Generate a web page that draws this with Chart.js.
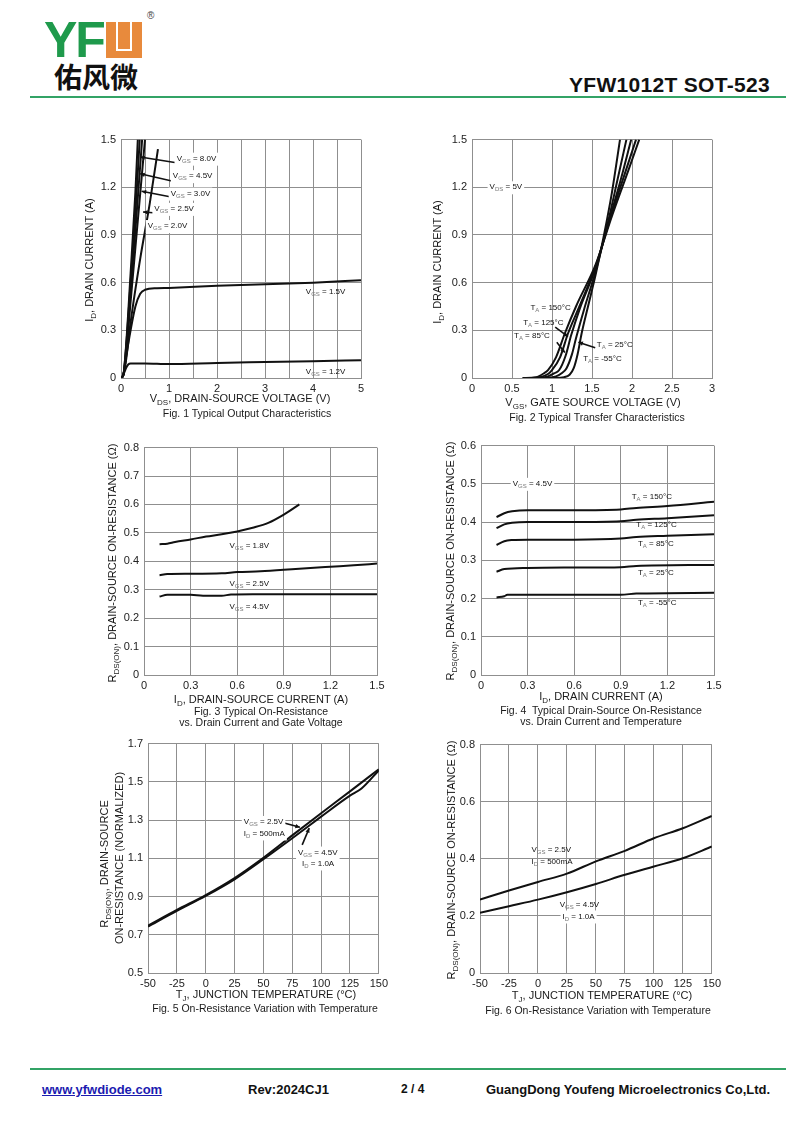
<!DOCTYPE html>
<html>
<head>
<meta charset="utf-8">
<script src="https://cdn.jsdelivr.net/npm/chart.js@4.4.1/dist/chart.umd.min.js"></script>
<style>
body{margin:0;width:800px;height:1130px;position:relative;background:#fff;font-family:"Liberation Sans",Arial,sans-serif;color:#111;overflow:hidden}
canvas{position:absolute}
.t{position:absolute;width:320px;text-align:center;white-space:nowrap;font-size:11px;line-height:12px;color:#1a1a1a}
.cap{font-size:10.5px}
.rot{transform:rotate(-90deg)}
sub{font-size:8px;vertical-align:-3px;line-height:0}
.line{position:absolute;left:30px;width:756px;height:2px;background:#33a366}
.foot{position:absolute;top:1082px;font-weight:bold;font-size:13px;white-space:nowrap}
</style>
</head>
<body>
<div style="position:absolute;left:44px;top:15px;font:bold 50px 'Liberation Sans',Arial;color:#1f9a4c;letter-spacing:-2px;line-height:50px">YF</div>
<div style="position:absolute;left:106px;top:22px;width:36px;height:36px;background:#e88a3c">
  <div style="position:absolute;left:10px;top:0;width:12px;height:27px;border:2px solid #fff;border-top:none"></div>
</div>
<div style="position:absolute;left:147px;top:10px;font-size:10px;color:#444">&reg;</div>
<div style="position:absolute;left:54px;top:58px;font:bold 28px 'Noto Sans CJK SC';color:#111;line-height:36px">佑风微</div>
<div style="position:absolute;left:569px;top:73px;font:bold 21px 'Liberation Sans',Arial;letter-spacing:0.3px;white-space:nowrap">YFW1012T SOT-523</div>
<div class="line" style="top:96px"></div>
<div class="line" style="top:1068px"></div>
<div class="foot" style="left:42px;color:#1b1bb0;text-decoration:underline">www.yfwdiode.com</div>
<div class="foot" style="left:248px">Rev:2024CJ1</div>
<div class="foot" style="left:401px;font-size:12px">2 / 4</div>
<div class="foot" style="left:486px">GuangDong Youfeng Microelectronics Co,Ltd.</div>

<script>
// Fig.1 output characteristics  [VDS, ID]
const f1_vgs80 = [[0,0],[0.05,0.02],[0.1,0.18],[0.2,0.66],[0.3,1.17],[0.35,1.5]];
const f1_vgs45 = [[0,0],[0.05,0.02],[0.1,0.17],[0.2,0.6],[0.3,1.04],[0.39,1.5]];
const f1_vgs30 = [[0,0],[0.05,0.02],[0.1,0.15],[0.2,0.55],[0.3,0.93],[0.44,1.5]];
const f1_vgs25 = [[0,0],[0.05,0.02],[0.1,0.13],[0.2,0.48],[0.3,0.82],[0.4,1.16],[0.5,1.5]];
const f1_vgs20 = [[0,0],[0.05,0.02],[0.1,0.1],[0.2,0.35],[0.4,0.75],[0.6,1.1],[0.77,1.44]];
const f1_vgs15 = [[0,0],[0.05,0.02],[0.1,0.12],[0.2,0.3],[0.3,0.45],[0.4,0.53],[0.5,0.555],[0.75,0.565],[1,0.567],[2,0.58],[3,0.59],[4,0.6],[5,0.615]];
const f1_vgs12 = [[0,0],[0.05,0.02],[0.1,0.06],[0.15,0.085],[0.2,0.092],[0.5,0.092],[1,0.088],[2,0.095],[3,0.1],[4,0.105],[5,0.112]];

// Fig.2 transfer characteristics [VGS, ID]
const f2_t150 = [[0.63,0],[0.8,0.005],[0.9,0.03],[0.95,0.05],[1.05,0.13],[1.16,0.28],[1.3,0.45],[1.55,0.72],[1.75,1.02],[1.95,1.3],[2.09,1.5]];
const f2_t125 = [[0.7,0],[0.85,0.005],[0.95,0.025],[1.0,0.05],[1.1,0.13],[1.2,0.28],[1.35,0.46],[1.55,0.71],[1.75,1.04],[1.9,1.27],[2.05,1.5]];
const f2_t85 = [[0.8,0],[0.95,0.01],[1.03,0.03],[1.09,0.05],[1.17,0.14],[1.24,0.27],[1.35,0.44],[1.55,0.7],[1.7,0.97],[1.85,1.23],[1.99,1.5]];
const f2_t25 = [[0.9,0],[1.05,0.01],[1.12,0.03],[1.18,0.06],[1.25,0.15],[1.3,0.25],[1.4,0.43],[1.55,0.68],[1.7,0.98],[1.82,1.25],[1.93,1.5]];
const f2_tm55 = [[1.0,0],[1.15,0.005],[1.22,0.02],[1.27,0.06],[1.32,0.15],[1.37,0.28],[1.45,0.45],[1.55,0.66],[1.65,0.9],[1.75,1.17],[1.85,1.5]];

// Fig.3 RDS(on) vs ID and VGS [ID, R]
const f3_vgs18 = [[0.1,0.46],[0.15,0.462],[0.2,0.468],[0.3,0.477],[0.4,0.487],[0.5,0.495],[0.6,0.505],[0.7,0.518],[0.8,0.535],[0.9,0.564],[1.0,0.6]];
const f3_vgs25 = [[0.1,0.351],[0.15,0.355],[0.3,0.356],[0.5,0.358],[0.6,0.362],[0.75,0.365],[0.9,0.37],[1.0,0.374],[1.2,0.381],[1.35,0.386],[1.5,0.392]];
const f3_vgs45 = [[0.1,0.276],[0.15,0.282],[0.3,0.282],[0.38,0.279],[0.5,0.279],[0.56,0.283],[0.7,0.284],[1.0,0.284],[1.5,0.284]];

// Fig.4 RDS(on) vs ID and temperature [ID, R]
const f4_t150 = [[0.1,0.413],[0.15,0.423],[0.2,0.428],[0.3,0.431],[0.6,0.431],[0.9,0.433],[1.0,0.437],[1.2,0.442],[1.5,0.453]];
const f4_t125 = [[0.1,0.384],[0.15,0.394],[0.2,0.398],[0.3,0.4],[0.6,0.4],[0.9,0.402],[1.0,0.406],[1.2,0.41],[1.5,0.418]];
const f4_t85 = [[0.1,0.34],[0.15,0.35],[0.2,0.353],[0.3,0.354],[0.6,0.354],[0.9,0.357],[1.0,0.361],[1.2,0.364],[1.5,0.368]];
const f4_t25 = [[0.1,0.27],[0.15,0.277],[0.3,0.28],[0.6,0.281],[0.9,0.282],[1.0,0.285],[1.5,0.288]];
const f4_tm55 = [[0.1,0.203],[0.15,0.206],[0.17,0.21],[0.6,0.21],[0.9,0.21],[1.0,0.213],[1.5,0.215]];

// Fig.5 normalized RDS(on) vs TJ
const f5_vgs25 = [[-50,0.748],[-25,0.83],[0,0.908],[25,0.997],[50,1.103],[75,1.22],[100,1.336],[125,1.45],[150,1.566]];
const f5_vgs45 = [[-50,0.743],[-25,0.825],[0,0.903],[25,0.99],[50,1.095],[75,1.205],[100,1.318],[125,1.428],[135,1.465],[150,1.56]];

// Fig.6 RDS(on) vs TJ
const f6_vgs25 = [[-50,0.257],[-25,0.289],[0,0.319],[25,0.348],[50,0.391],[75,0.428],[100,0.472],[125,0.507],[150,0.55]];
const f6_vgs45 = [[-50,0.211],[-25,0.234],[0,0.257],[25,0.283],[50,0.312],[75,0.344],[100,0.373],[125,0.402],[150,0.443]];

const fmt = v => String(+v.toFixed(2));
const fmtInt = v => Number.isInteger(+v.toFixed(3)) ? fmt(v) : '';

function notePlugin(notes) {
  return {
    id: 'notes',
    afterDatasetsDraw(chart) {
      const ctx = chart.ctx, sx = chart.scales.x, sy = chart.scales.y;
      ctx.save();
      ctx.strokeStyle = '#111';
      ctx.fillStyle = '#111';
      ctx.lineWidth = 1.6;
      notes.forEach(n => {
        if (!n.arrow) return;
        const x1 = sx.getPixelForValue(n.arrow[0]), y1 = sy.getPixelForValue(n.arrow[1]);
        const x2 = sx.getPixelForValue(n.arrow[2]), y2 = sy.getPixelForValue(n.arrow[3]);
        ctx.beginPath(); ctx.moveTo(x1, y1); ctx.lineTo(x2, y2); ctx.stroke();
        const a = Math.atan2(y2 - y1, x2 - x1);
        ctx.beginPath();
        ctx.moveTo(x2, y2);
        ctx.lineTo(x2 - 5 * Math.cos(a - 0.45), y2 - 5 * Math.sin(a - 0.45));
        ctx.lineTo(x2 - 5 * Math.cos(a + 0.45), y2 - 5 * Math.sin(a + 0.45));
        ctx.closePath(); ctx.fill();
      });
      ctx.textBaseline = 'middle';
      notes.forEach(n => {
        const x = sx.getPixelForValue(n.x), y = sy.getPixelForValue(n.y);
        ctx.font = '8px "Liberation Sans"';
        const w1 = ctx.measureText(n.v).width;
        const w3 = ctx.measureText(n.t).width;
        ctx.font = '6px "Liberation Sans"';
        const w2 = ctx.measureText(n.s).width;
        if (n.bg) { ctx.fillStyle = '#fff'; ctx.fillRect(x - 2, y - 6, w1 + w2 + w3 + 4, 13); }
        ctx.fillStyle = '#111';
        ctx.font = '8px "Liberation Sans"';
        ctx.fillText(n.v, x, y);
        ctx.fillText(n.t, x + w1 + w2, y);
        ctx.font = '6px "Liberation Sans"';
        ctx.fillStyle = '#777';
        ctx.fillText(n.s, x + w1, y + 2.5);
        ctx.fillStyle = '#111';
      });
      ctx.restore();
    }
  };
}

function axis(min, max, step, cb, fit) {
  return {
    type: 'linear', min: min, max: max,
    ticks: { stepSize: step, autoSkip: false, maxRotation: 0, padding: fit === 'x' ? 4 : 5,
      color: '#222', font: { family: 'Liberation Sans', size: 11 }, callback: cb },
    grid: { color: '#8f8f8f', lineWidth: 1, drawTicks: false },
    border: { color: '#8f8f8f' },
    afterFit(s) { if (fit === 'x') s.height = 24; else s.width = 40; }
  };
}

function mkChart(area, xa, ya, series, notes) {
  const pl = 40, pt = 10, pr = 12, pb = 24;
  const w = area[2] - area[0] + pl + pr, h = area[3] - area[1] + pt + pb;
  const c = document.createElement('canvas');
  c.width = w; c.height = h;
  c.style.left = (area[0] - pl) + 'px'; c.style.top = (area[1] - pt) + 'px';
  c.style.width = w + 'px'; c.style.height = h + 'px';
  document.body.appendChild(c);
  new Chart(c, {
    type: 'line',
    data: { datasets: series.map(s => ({
      data: s.map(p => ({ x: p[0], y: p[1] })),
      borderColor: '#111', borderWidth: 2, pointRadius: 0,
      cubicInterpolationMode: 'monotone', fill: false })) },
    options: {
      responsive: false, animation: false, devicePixelRatio: 1,
      layout: { padding: { top: pt, right: pr, left: 0, bottom: 0 } },
      plugins: { legend: { display: false }, tooltip: { enabled: false } },
      scales: { x: axis(xa[0], xa[1], xa[2], xa[3], 'x'), y: axis(ya[0], ya[1], ya[2], ya[3], 'y') }
    },
    plugins: [notePlugin(notes)]
  });
}

function txt(html, cx, cy, cls) {
  const d = document.createElement('div');
  d.className = 't ' + (cls || '');
  d.innerHTML = html;
  d.style.left = (cx - 160) + 'px';
  d.style.top = (cy - 6) + 'px';
  document.body.appendChild(d);
}

mkChart([121, 138, 361, 378], [0, 5, 0.5, fmtInt], [0, 1.5, 0.3, fmt],
  [f1_vgs80, f1_vgs45, f1_vgs30, f1_vgs25, f1_vgs20, f1_vgs15, f1_vgs12], [
  { x: 1.16, y: 1.38, v: 'V', s: 'GS', t: ' = 8.0V', bg: true, arrow: [1.12, 1.356, 0.4, 1.39] },
  { x: 1.08, y: 1.27, v: 'V', s: 'GS', t: ' = 4.5V', bg: true, arrow: [1.06, 1.24, 0.4, 1.285] },
  { x: 1.035, y: 1.16, v: 'V', s: 'GS', t: ' = 3.0V', bg: true, arrow: [1.02, 1.14, 0.43, 1.175] },
  { x: 0.695, y: 1.064, v: 'V', s: 'GS', t: ' = 2.5V', bg: true, arrow: [0.67, 1.04, 0.46, 1.044] },
  { x: 0.556, y: 0.956, v: 'V', s: 'GS', t: ' = 2.0V', bg: true },
  { x: 3.85, y: 0.54, v: 'V', s: 'GS', t: ' = 1.5V' },
  { x: 3.85, y: 0.04, v: 'V', s: 'GS', t: ' = 1.2V' }
]);

mkChart([472, 138, 712, 378], [0, 3, 0.5, fmt], [0, 1.5, 0.3, fmt],
  [f2_t150, f2_t125, f2_t85, f2_t25, f2_tm55], [
  { x: 0.22, y: 1.2, v: 'V', s: 'DS', t: ' = 5V', bg: true },
  { x: 0.73, y: 0.44, v: 'T', s: 'A', t: ' = 150°C' },
  { x: 0.64, y: 0.35, v: 'T', s: 'A', t: ' = 125°C', arrow: [1.04, 0.32, 1.2, 0.26] },
  { x: 0.525, y: 0.265, v: 'T', s: 'A', t: ' = 85°C', arrow: [1.06, 0.225, 1.16, 0.16] },
  { x: 1.56, y: 0.21, v: 'T', s: 'A', t: ' = 25°C', arrow: [1.54, 0.19, 1.33, 0.225] },
  { x: 1.39, y: 0.12, v: 'T', s: 'A', t: ' = -55°C' }
]);

mkChart([144, 446, 377, 675], [0, 1.5, 0.3, fmt], [0, 0.8, 0.1, fmt],
  [f3_vgs18, f3_vgs25, f3_vgs45], [
  { x: 0.55, y: 0.455, v: 'V', s: 'GS', t: ' = 1.8V' },
  { x: 0.55, y: 0.322, v: 'V', s: 'GS', t: ' = 2.5V' },
  { x: 0.55, y: 0.24, v: 'V', s: 'GS', t: ' = 4.5V' }
]);

mkChart([481, 444, 714, 675], [0, 1.5, 0.3, fmt], [0, 0.6, 0.1, fmt],
  [f4_t150, f4_t125, f4_t85, f4_t25, f4_tm55], [
  { x: 0.204, y: 0.5, v: 'V', s: 'GS', t: ' = 4.5V', bg: true },
  { x: 0.97, y: 0.467, v: 'T', s: 'A', t: ' = 150°C' },
  { x: 1.0, y: 0.392, v: 'T', s: 'A', t: ' = 125°C' },
  { x: 1.01, y: 0.343, v: 'T', s: 'A', t: ' = 85°C' },
  { x: 1.01, y: 0.268, v: 'T', s: 'A', t: ' = 25°C' },
  { x: 1.01, y: 0.19, v: 'T', s: 'A', t: ' = -55°C' }
]);

mkChart([148, 742, 380, 973], [-50, 150, 25, fmt], [0.5, 1.7, 0.2, fmt],
  [f5_vgs25, f5_vgs45], [
  { x: 33, y: 1.29, v: 'V', s: 'GS', t: ' = 2.5V', bg: true, arrow: [68, 1.285, 81.6, 1.262] },
  { x: 33, y: 1.23, v: 'I', s: 'D', t: ' = 500mA', bg: true },
  { x: 80, y: 1.13, v: 'V', s: 'GS', t: ' = 4.5V', bg: true, arrow: [83.6, 1.17, 89.7, 1.258] },
  { x: 83.5, y: 1.073, v: 'I', s: 'D', t: ' = 1.0A', bg: true }
]);

mkChart([480, 743, 713, 973], [-50, 150, 25, fmt], [0, 0.8, 0.2, fmt],
  [f6_vgs25, f6_vgs45], [
  { x: -5.6, y: 0.43, v: 'V', s: 'GS', t: ' = 2.5V' },
  { x: -5.6, y: 0.39, v: 'I', s: 'D', t: ' = 500mA' },
  { x: 18.7, y: 0.239, v: 'V', s: 'GS', t: ' = 4.5V' },
  { x: 21.2, y: 0.198, v: 'I', s: 'D', t: ' = 1.0A', bg: true }
]);

// axis titles and captions
txt('V<sub>DS</sub>, DRAIN-SOURCE VOLTAGE (V)', 240, 398);
txt('Fig. 1 Typical Output Characteristics', 247, 413, 'cap');
txt('I<sub>D</sub>, DRAIN CURRENT (A)', 89, 260, 'rot');

txt('V<sub>GS</sub>, GATE SOURCE VOLTAGE (V)', 593, 402);
txt('Fig. 2 Typical Transfer Characteristics', 597, 417, 'cap');
txt('I<sub>D</sub>, DRAIN CURRENT (A)', 437, 262, 'rot');

txt('I<sub>D</sub>, DRAIN-SOURCE CURRENT (A)', 261, 699);
txt('Fig. 3 Typical On-Resistance', 261, 711, 'cap');
txt('vs. Drain Current and Gate Voltage', 261, 722, 'cap');
txt('R<sub>DS(ON)</sub>, DRAIN-SOURCE ON-RESISTANCE (Ω)', 112, 563, 'rot');

txt('I<sub>D</sub>, DRAIN CURRENT (A)', 601, 696);
txt('Fig. 4&nbsp; Typical Drain-Source On-Resistance', 601, 710, 'cap');
txt('vs. Drain Current and Temperature', 601, 721, 'cap');
txt('R<sub>DS(ON)</sub>, DRAIN-SOURCE ON-RESISTANCE (Ω)', 450, 561, 'rot');

txt('T<sub>J</sub>, JUNCTION TEMPERATURE (°C)', 266, 994);
txt('Fig. 5 On-Resistance Variation with Temperature', 265, 1008, 'cap');
txt('R<sub>DS(ON)</sub>, DRAIN-SOURCE', 104, 864, 'rot');
txt('ON-RESISTANCE (NORMALIZED)', 119, 858, 'rot');

txt('T<sub>J</sub>, JUNCTION TEMPERATURE (°C)', 602, 995);
txt('Fig. 6 On-Resistance Variation with Temperature', 598, 1010, 'cap');
txt('R<sub>DS(ON)</sub>, DRAIN-SOURCE ON-RESISTANCE (Ω)', 451, 860, 'rot');
</script>
</body>
</html>
